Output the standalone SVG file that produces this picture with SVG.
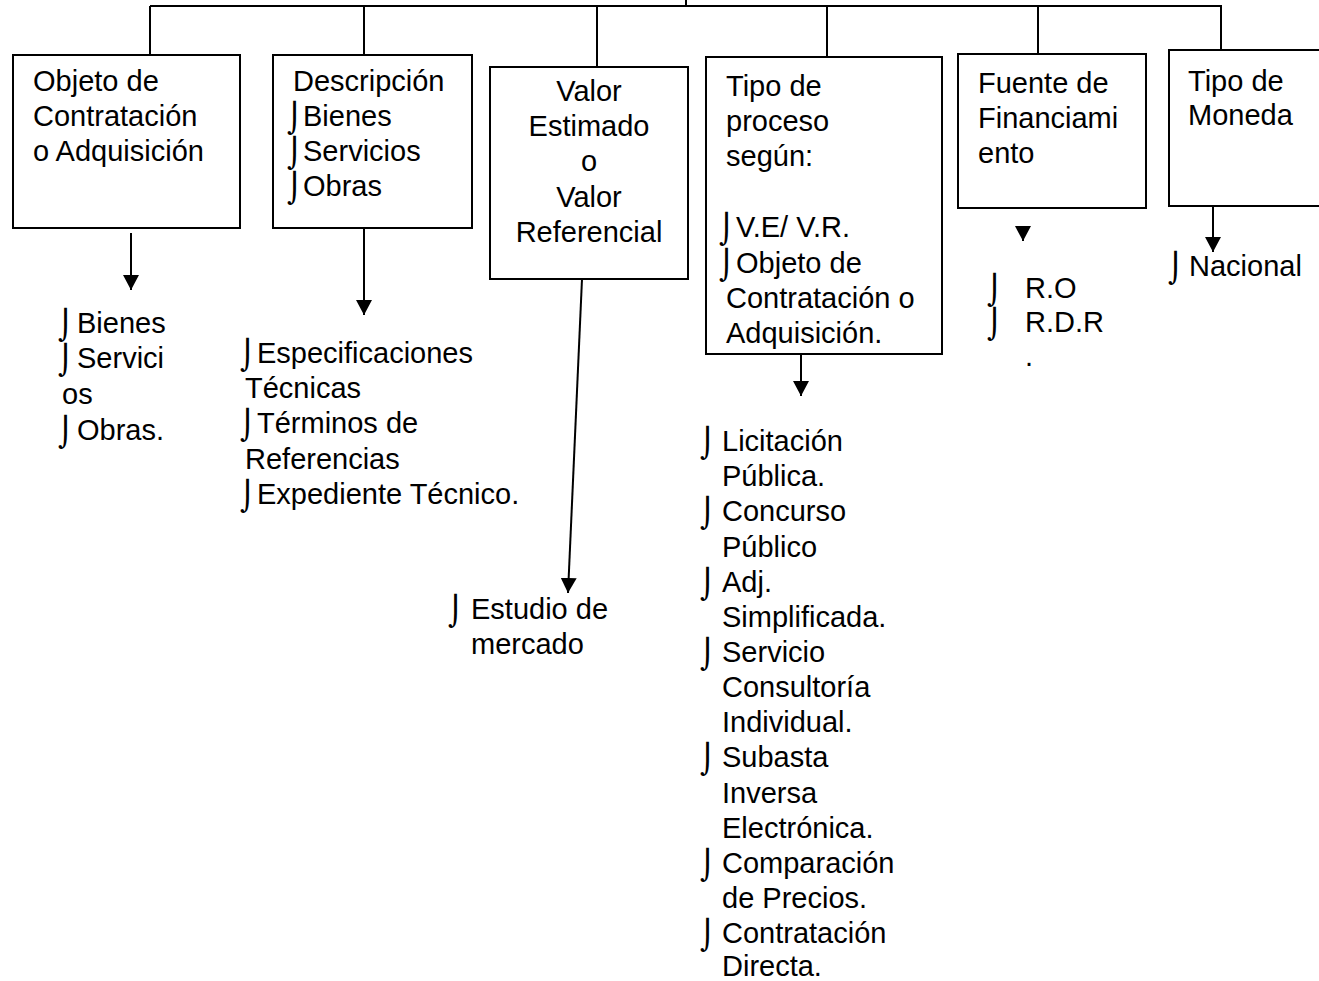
<svg xmlns="http://www.w3.org/2000/svg" width="1319" height="981" viewBox="0 0 1319 981">
<style>
.bx{fill:#fff;stroke:#000;stroke-width:2}
.ln{fill:none;stroke:#000;stroke-width:2}
text{font-family:"Liberation Sans",Arial,sans-serif;font-size:29px;fill:#000}
.b{font-family:"DejaVu Sans",sans-serif;font-size:29px}
.c{text-anchor:middle}
</style>
<defs>
<marker id="ah" markerUnits="userSpaceOnUse" markerWidth="16" markerHeight="16" viewBox="0 0 16 16" refX="15" refY="8" orient="auto">
<path d="M0,0 L15,8 L0,16 Z" fill="#000"/>
</marker>
</defs>
<rect width="1319" height="981" fill="#fff"/>
<g id="connectors">
<path class="ln" d="M150,6 H1222 M686,0 V6 M150,6 V55 M364,6 V55 M597,6 V67 M827,6 V57 M1038,6 V54 M1221,6 V50"/>
<path class="ln" d="M131,233 V290" marker-end="url(#ah)"/>
<path class="ln" d="M364,228 V315" marker-end="url(#ah)"/>
<path class="ln" d="M582,279 L568,593" marker-end="url(#ah)"/>
<path class="ln" d="M801,354 V396" marker-end="url(#ah)"/>
<path class="ln" d="M1023,226 V241" marker-end="url(#ah)"/>
<path class="ln" d="M1213,206 V252" marker-end="url(#ah)"/>
</g>
<g id="objeto">
<rect class="bx" x="13" y="55" width="227" height="173"/>
<text x="33" y="91">Objeto de</text>
<text x="33" y="126">Contratación</text>
<text x="33" y="161">o Adquisición</text>
</g>
<g id="descripcion">
<rect class="bx" x="273" y="55" width="199" height="173"/>
<text x="293" y="91">Descripción</text>
<text class="b" x="287" y="128">⌡</text><text x="303" y="126">Bienes</text>
<text class="b" x="287" y="163">⌡</text><text x="303" y="161">Servicios</text>
<text class="b" x="287" y="198">⌡</text><text x="303" y="196">Obras</text>
</g>
<g id="valor">
<rect class="bx" x="490" y="67" width="198" height="212"/>
<text class="c" x="589" y="101">Valor</text>
<text class="c" x="589" y="136">Estimado</text>
<text class="c" x="589" y="171">o</text>
<text class="c" x="589" y="207">Valor</text>
<text class="c" x="589" y="242">Referencial</text>
</g>
<g id="tipo-proceso">
<rect class="bx" x="706" y="57" width="236" height="297"/>
<text x="726" y="96">Tipo de</text>
<text x="726" y="131">proceso</text>
<text x="726" y="166">según:</text>
<text class="b" x="719" y="239">⌡</text><text x="736" y="237">V.E/ V.R.</text>
<text class="b" x="719" y="275">⌡</text><text x="736" y="273">Objeto de</text>
<text x="726" y="308">Contratación o</text>
<text x="726" y="343">Adquisición.</text>
</g>
<g id="fuente">
<rect class="bx" x="958" y="54" width="188" height="154"/>
<text x="978" y="93">Fuente de</text>
<text x="978" y="128">Financiami</text>
<text x="978" y="163">ento</text>
</g>
<g id="moneda">
<rect class="bx" x="1169" y="50" width="160" height="156"/>
<text x="1188" y="91">Tipo de</text>
<text x="1188" y="125">Moneda</text>
</g>
<g id="lista-objeto">
<text class="b" x="58" y="335">⌡</text><text x="77" y="333">Bienes</text>
<text class="b" x="58" y="370">⌡</text><text x="77" y="368">Servici</text>
<text x="62" y="404">os</text>
<text class="b" x="58" y="442">⌡</text><text x="77" y="440">Obras.</text>
</g>
<g id="lista-descripcion">
<text class="b" x="240" y="365">⌡</text><text x="257" y="363">Especificaciones</text>
<text x="245" y="398">Técnicas</text>
<text class="b" x="240" y="435">⌡</text><text x="257" y="433">Términos de</text>
<text x="245" y="469">Referencias</text>
<text class="b" x="240" y="506">⌡</text><text x="257" y="504">Expediente Técnico.</text>
</g>
<g id="lista-valor">
<text class="b" x="448" y="621">⌡</text><text x="471" y="619">Estudio de</text>
<text x="471" y="654">mercado</text>
</g>
<g id="lista-proceso">
<text class="b" x="700" y="453">⌡</text><text x="722" y="451">Licitación</text>
<text x="722" y="486">Pública.</text>
<text class="b" x="700" y="523">⌡</text><text x="722" y="521">Concurso</text>
<text x="722" y="557">Público</text>
<text class="b" x="700" y="594">⌡</text><text x="722" y="592">Adj.</text>
<text x="722" y="627">Simplificada.</text>
<text class="b" x="700" y="664">⌡</text><text x="722" y="662">Servicio</text>
<text x="722" y="697">Consultoría</text>
<text x="722" y="732">Individual.</text>
<text class="b" x="700" y="769">⌡</text><text x="722" y="767">Subasta</text>
<text x="722" y="803">Inversa</text>
<text x="722" y="838">Electrónica.</text>
<text class="b" x="700" y="875">⌡</text><text x="722" y="873">Comparación</text>
<text x="722" y="908">de Precios.</text>
<text class="b" x="700" y="945">⌡</text><text x="722" y="943">Contratación</text>
<text x="722" y="976">Directa.</text>
</g>
<g id="lista-fuente">
<text class="b" x="987" y="300">⌡</text><text x="1025" y="298">R.O</text>
<text class="b" x="987" y="334">⌡</text><text x="1025" y="332">R.D.R</text>
<text x="1025" y="366">.</text>
</g>
<g id="lista-moneda">
<text class="b" x="1168" y="278">⌡</text><text x="1189" y="276">Nacional</text>
</g>
</svg>
